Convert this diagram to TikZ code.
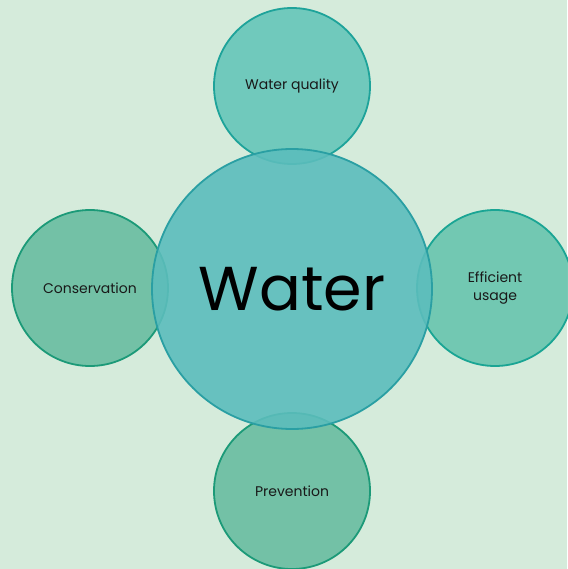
\documentclass[tikz,border=0pt]{standalone}
\usepackage{fontspec}
\setmainfont{Poppins}
\definecolor{bg}{HTML}{D5EBDB}
\definecolor{cfill}{HTML}{5CBDBC}
\definecolor{cline}{HTML}{2A9FA3}
\definecolor{tfill}{HTML}{68C7BA}
\definecolor{tline}{HTML}{1EA39A}
\definecolor{gfill}{HTML}{6BBEA2}
\definecolor{gline}{HTML}{1C9A78}
\definecolor{rfill}{HTML}{6AC6AF}
\definecolor{rline}{HTML}{1AA594}
\tikzset{
  sat/.style={circle, minimum size=156pt, inner sep=0pt, line width=1.8pt, fill opacity=0.92, text opacity=1, align=center, font=\fontsize{14}{18}\selectfont, text=black!90},
  hub/.style={circle, minimum size=280pt, inner sep=0pt, line width=1.8pt, fill=cfill, draw=cline, fill opacity=0.9, text opacity=1, font=\fontsize{62}{64}\selectfont, text=black}
}
\begin{document}
\begin{tikzpicture}[x=1pt,y=-1pt]
\useasboundingbox (0,0) rectangle (567,569);
\fill[bg] (0,0) rectangle (567,569);
\node[sat, fill=tfill, draw=tline] (q) at (292,86) {Water quality};
\node[sat, fill=gfill, draw=gline] (c) at (90,288) {Conservation};
\node[sat, fill=rfill, draw=rline] (e) at (495,288) {Efficient\\usage};
\node[sat, fill=gfill, draw=gline] (p) at (292,491) {Prevention};
\node[hub] (w) at (292,289) {Water};
\end{tikzpicture}
\end{document}
